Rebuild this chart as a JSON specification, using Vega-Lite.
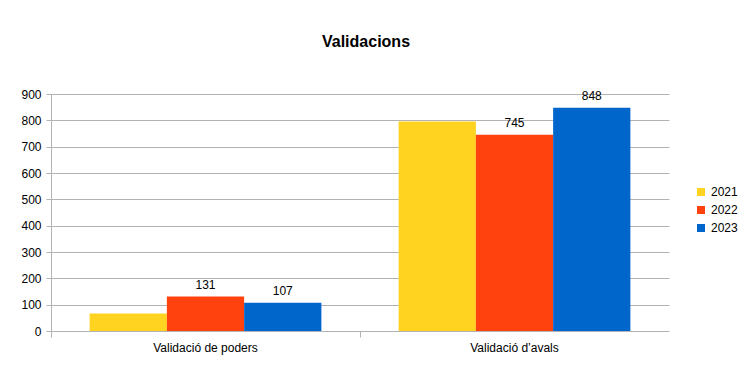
{
  "$schema": "https://vega.github.io/schema/vega-lite/v6.json",
  "autosize": {"type": "none"},
  "padding": {"left": 51, "top": 94, "right": 82, "bottom": 35},
  "width": 618,
  "height": 237,
  "background": "white",
  "config": {
    "font": "Liberation Sans",
    "view": {"stroke": null},
    "axis": {"labelFont": "Liberation Sans", "labelFontSize": 12, "labelColor": "#000000", "domainColor": "#b3b3b3", "tickColor": "#b3b3b3", "gridColor": "#b3b3b3", "title": null}
  },
  "title": {"text": "Validacions", "font": "Liberation Sans", "fontSize": 16, "fontWeight": "bold", "color": "#000000", "anchor": "middle", "offset": 38, "dx": 6},
  "data": {"values": [
    {"cat": "Validació de poders", "year": "2021", "value": 66},
    {"cat": "Validació de poders", "year": "2022", "value": 131},
    {"cat": "Validació de poders", "year": "2023", "value": 107},
    {"cat": "Validació d’avals", "year": "2021", "value": 796},
    {"cat": "Validació d’avals", "year": "2022", "value": 745},
    {"cat": "Validació d’avals", "year": "2023", "value": 848}
  ]},
  "encoding": {
    "x": {"field": "cat", "type": "nominal", "sort": null,
      "scale": {"paddingInner": 0, "paddingOuter": 0},
      "axis": {"labelAngle": 0, "bandPosition": 0, "tickSize": 6, "labelPadding": 5, "domain": false, "grid": false}},
    "xOffset": {"field": "year", "type": "nominal", "scale": {"paddingInner": 0, "paddingOuter": 0.5}},
    "y": {"field": "value", "type": "quantitative",
      "scale": {"domain": [0, 900], "nice": false},
      "axis": {"values": [0,100,200,300,400,500,600,700,800,900], "tickSize": 5, "labelPadding": 5, "grid": true, "domain": true}}
  },
  "layer": [
    {
      "mark": {"type": "bar"},
      "encoding": {
        "color": {"field": "year", "type": "nominal",
          "scale": {"domain": ["2021", "2022", "2023"], "range": ["#ffd320", "#ff420e", "#0066cc"]},
          "legend": {"title": null, "orient": "none", "legendX": 644, "legendY": 92, "symbolType": "square", "symbolSize": 64, "symbolStrokeWidth": 0, "labelFontSize": 12, "labelFont": "Liberation Sans", "labelColor": "#000000", "rowPadding": 6, "labelOffset": 4}}
      }
    },
    {
      "transform": [{"filter": "datum.year != '2021'"}],
      "mark": {"type": "text", "baseline": "bottom", "dy": -5, "fontSize": 12, "font": "Liberation Sans", "color": "#000000"},
      "encoding": {"text": {"field": "value", "type": "quantitative"}}
    }
  ]
}
